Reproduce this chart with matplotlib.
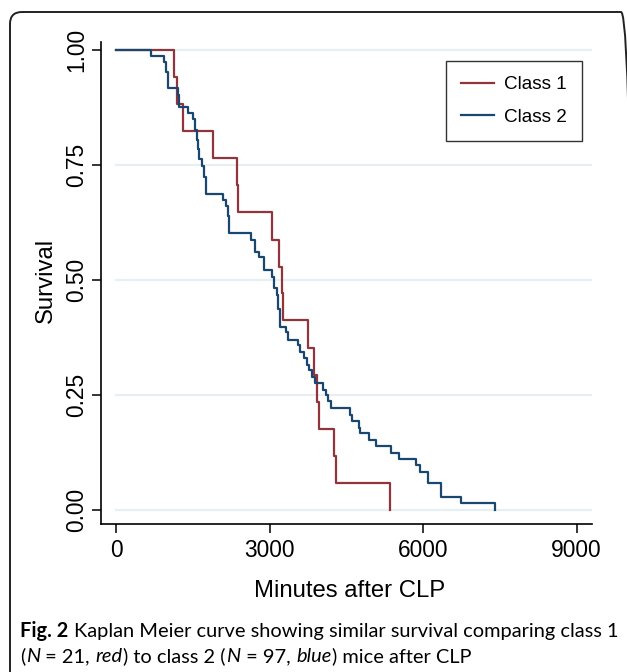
import matplotlib
matplotlib.use("Agg")
import matplotlib.pyplot as plt
from matplotlib import font_manager as fm
from matplotlib.patches import FancyBboxPatch
from matplotlib.transforms import IdentityTransform

# ---------------- data ----------------
class1_time = [0, 1133, 1178, 1295, 1881, 2350, 2370, 3040, 3184, 3235, 3255,
               3737, 3867, 3920, 3965, 4258, 4303, 5352]
class1_surv = [1.0, 0.941, 0.882, 0.824, 0.765, 0.706, 0.647, 0.588, 0.529, 0.471,
               0.412, 0.353, 0.294, 0.235, 0.176, 0.118, 0.059, 0.0]

class2_time = [0, 677, 925, 960, 1000, 1015, 1197, 1230, 1393, 1500, 1540, 1570,
               1590, 1620, 1670, 1715, 1745, 1760, 2080, 2134, 2175, 2200, 2210,
               2631, 2715, 2793, 2890, 3033, 3072, 3131, 3164, 3200, 3326, 3346,
               3555, 3588, 3672, 3736, 3770, 3834, 3887, 4043, 4096, 4141, 4193,
               4570, 4615, 4746, 4766, 4941, 5072, 5365, 5527, 5854, 5932, 6094,
               6342, 6744, 7402]
class2_surv = [1.0, 0.986, 0.973, 0.953, 0.935, 0.917, 0.902, 0.877, 0.864, 0.851,
               0.826, 0.804, 0.785, 0.762, 0.748, 0.725, 0.707, 0.688, 0.673, 0.660,
               0.640, 0.622, 0.603, 0.588, 0.561, 0.549, 0.521, 0.507, 0.482, 0.467,
               0.438, 0.398, 0.388, 0.370, 0.359, 0.344, 0.330, 0.315, 0.304, 0.290,
               0.276, 0.261, 0.249, 0.236, 0.221, 0.207, 0.193, 0.178, 0.167, 0.152,
               0.139, 0.125, 0.111, 0.098, 0.083, 0.058, 0.029, 0.016, 0.0]

series_names = ["Class 1", "Class 2"]
series_colors = ["#90353B", "#1A476F"]
x_ticks = [0, 3000, 6000, 9000]
y_ticks = [0.0, 0.25, 0.5, 0.75, 1.0]
y_ticklabels = ["0.00", "0.25", "0.50", "0.75", "1.00"]
x_label = "Minutes after CLP"
y_label = "Survival"

# ---------------- fonts ----------------
names = {f.name for f in fm.fontManager.ttflist}
if "Liberation Sans Narrow" in names:
    FAM, K = "Liberation Sans Narrow", 1.0
else:
    FAM, K = "Liberation Sans", 0.82
CAP = "Lato" if "Lato" in names else "DejaVu Sans"

W, H = 627, 672
fig = plt.figure(figsize=(W / 100, H / 100), dpi=100)
fig.patch.set_facecolor("white")

# axes box in pixels: left 101, right 592, top 42, bottom 524
L, R, T, B = 101, 592, 42, 524
ax = fig.add_axes([L / W, 1 - B / H, (R - L) / W, (B - T) / H])

ax.set_xlim(-303, 9303)
ax.set_ylim(-0.0304, 1.0174)

for y in y_ticks:
    ax.axhline(y, xmin=0.03, xmax=1.0, color="#E8EFF2", lw=1.6, zorder=0)

ax.step(class1_time, class1_surv, where="post", color=series_colors[0], lw=1.6,
        label=series_names[0], zorder=3)
ax.step(class2_time, class2_surv, where="post", color=series_colors[1], lw=1.6,
        label=series_names[1], zorder=3)

for s in ["top", "right"]:
    ax.spines[s].set_visible(False)
for s in ["left", "bottom"]:
    ax.spines[s].set_linewidth(1.2)
    ax.spines[s].set_color("black")

ax.set_xticks(x_ticks)
ax.set_xticklabels([str(v) for v in x_ticks], fontsize=20 * K, family=FAM)
ax.set_yticks(y_ticks)
ax.set_yticklabels(y_ticklabels, fontsize=20 * K, family=FAM, rotation=90, va="center")
ax.tick_params(axis="both", direction="out", length=6.5, width=1.1, color="black")
ax.tick_params(axis="y", pad=3)
ax.tick_params(axis="x", pad=4)

ax.set_xlabel(x_label, fontsize=21 * K, family=FAM)
ax.set_ylabel(y_label, fontsize=21 * K, family=FAM)
ax.xaxis.label.set_va("center")
ax.yaxis.label.set_va("center")
ax.xaxis.set_label_coords((350 - L) / (R - L), (B - 591) / (B - T))
ax.yaxis.set_label_coords((46 - L) / (R - L), (B - 280) / (B - T))

leg = ax.legend(loc="upper left",
                bbox_to_anchor=((446 - L) / (R - L), (B - 61) / (B - T)),
                prop={"family": FAM, "size": 16.6 * K},
                frameon=True, fancybox=False, shadow=False,
                handlelength=1.75, handletextpad=0.5, labelspacing=0.82,
                borderpad=0.8, borderaxespad=0)
leg.get_frame().set_edgecolor("black")
leg.get_frame().set_linewidth(1.0)
for h in leg.legend_handles:
    h.set_linewidth(1.6)

# rounded frame around the figure (pixel coordinates)
frame = FancyBboxPatch((10, H - 690), 623, 690 - 12,
                       boxstyle="round,pad=0,rounding_size=12",
                       transform=IdentityTransform(), fill=False,
                       edgecolor="#222222", lw=1.4)
fig.patches.append(frame)

# ---------------- caption ----------------
renderer = fig.canvas.get_renderer()


def width_of(txt, size, **kw):
    t = fig.text(0, 0, txt, fontsize=size, family=CAP, **kw)
    w = t.get_window_extent(renderer).width
    t.remove()
    return w


def draw_segments(x0, ybase, segs, size):
    sp = width_of("x x", size) - width_of("xx", size)
    x = x0
    for txt, kw in segs:
        if txt == " ":
            x += sp
            continue
        t = fig.text(x / W, 1 - ybase / H, txt, fontsize=size, family=CAP,
                     ha="left", va="baseline", **kw)
        bb = t.get_window_extent(renderer)
        x = bb.x1 + 0.5
    return x


bold = {"fontweight": "bold"}
reg = {}
ita = {"style": "italic"}
line1 = [("Fig. 2", bold), (" ", reg),
         ("Kaplan Meier curve showing similar survival comparing class 1", reg)]
line2 = [("(", reg), ("N", ita), (" = 21, ", reg), ("red", ita),
         (") to class 2 (", reg), ("N", ita), (" = 97, ", reg), ("blue", ita),
         (") mice after CLP", reg)]

base = 13.0
w1 = (width_of("Fig. 2", base, **bold) + width_of("x x", base) - width_of("xx", base)
      + width_of(line1[2][0], base))
cap_size = base * 597.0 / w1
draw_segments(20, 637, line1, cap_size)
draw_segments(20, 662, line2, cap_size)

fig.savefig("out.png", dpi=100, facecolor="white")
